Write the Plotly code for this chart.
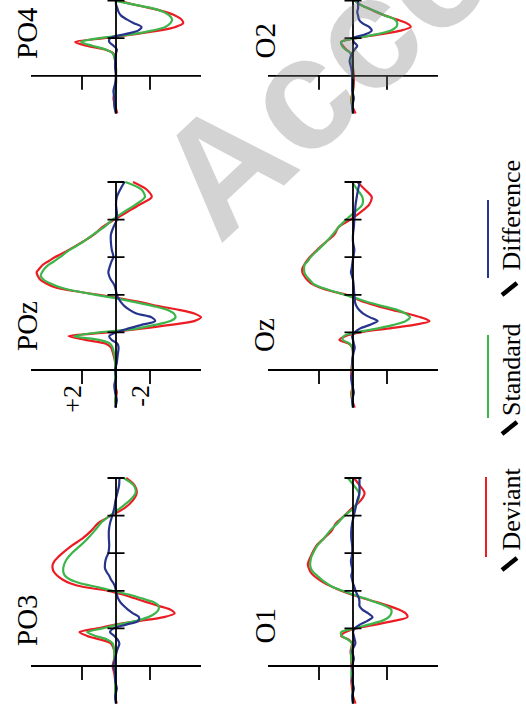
import plotly.graph_objects as go

W, H = 526, 705

# ---------------- data (µV, time in ms) ----------------
TIME = [-100, -80, -60, -40, -20, 0, 20, 40, 60, 70, 80, 90, 100, 110, 120, 130, 140, 150,
        160, 170, 180, 190, 200, 210, 220, 230, 240, 250, 260, 270, 280, 290, 300, 320,
        340, 360, 380, 400, 420, 440, 460, 480, 500]
TIME_TOP = TIME[:23]  # top row is cut by the page edge (up to 200 ms)

PO3_DEVIANT = [-0.05, 0.05, 0, 0.05, 0.1, 0.2, 0.1, 0.1, 0.3, 0.9, 1.7, 2.15, 1.1, 0.05, -1.4, -2.8, -3.45, -3.2,
               -2.5, -1.8, -1.1, -0.4, 0.45, 1.9, 2.7, 3.15, 3.45, 3.65, 3.73, 3.72, 3.6, 3.4, 3.15, 2.6,
               1.95, 1.45, 1.05, 0.3, -0.5, -0.98, -1.22, -1.1, -0.6]
PO3_STANDARD = [0, 0.05, 0.05, 0.05, 0.05, 0.1, 0.1, 0.1, 0.2, 0.5, 1.2, 1.7, 0.8, -0.1, -1.2, -1.9, -2.3, -2.5,
                -2.5, -2.2, -1.5, -0.75, 0.2, 1.1, 2.1, 2.7, 3.0, 3.1, 3.1, 3.05, 2.95, 2.8, 2.6, 2.1,
                1.65, 1.25, 0.9, 0.35, -0.25, -0.8, -1.15, -1.05, -0.45]
PO3_DIFFERENCE = [0, 0.05, -0.05, 0.05, 0.05, 0.15, 0.05, -0.05, -0.2, -0.1, 0.1, 0.35, 0.15, -0.6, -1.3, -1.35, -1.0, -0.7,
                  -0.45, -0.25, -0.12, -0.05, 0, 0.05, 0.15, 0.3, 0.4, 0.55, 0.65, 0.65, 0.62, 0.55, 0.45, 0.4,
                  0.42, 0.42, 0.35, 0.22, 0.1, 0.03, -0.08, -0.18, -0.2]

POZ_DEVIANT = [0, 0.05, -0.05, 0.05, 0.05, 0.05, 0.05, 0.15, 0.3, 0.6, 1.8, 2.8, 0.5, -1.5, -3.2, -4.6, -5.0, -4.6,
               -3.7, -2.5, -1.5, -0.3, 1.0, 2.5, 3.6, 4.1, 4.45, 4.6, 4.67, 4.5, 4.3, 3.95, 3.6, 2.75,
               2.0, 1.3, 0.8, 0.1, -0.65, -1.4, -2.1, -1.8, -1.0]
POZ_STANDARD = [0, 0.05, 0, 0.05, 0.05, 0.05, 0.05, 0.1, 0.2, 0.35, 1.0, 2.45, 1.0, -1.2, -2.3, -3.2, -3.5, -3.4,
                -3.0, -2.2, -1.2, -0.1, 1.2, 2.4, 3.3, 3.85, 4.25, 4.43, 4.35, 4.2, 3.95, 3.6, 3.3, 2.7,
                1.95, 1.35, 0.7, 0.2, -0.45, -1.15, -1.7, -1.5, -0.55]
POZ_DIFFERENCE = [0.05, -0.05, 0.05, 0.1, 0, 0.05, -0.05, -0.1, -0.15, -0.08, 0.25, 0.4, 0, -0.7, -1.5, -2.3, -2.1, -1.2,
                  -0.8, -0.5, -0.3, -0.15, -0.05, 0, 0.05, 0.15, 0.3, 0.4, 0.45, 0.4, 0.33, 0.25, 0.15, 0.25,
                  0.3, 0.3, 0.15, -0.05, -0.05, 0, -0.05, -0.25, -0.5]

PO4_DEVIANT = [-0.08, 0.05, 0.15, 0.05, 0, 0, 0, 0.05, 0.16, 0.65, 1.75, 2.4, 0.7, -1.0, -2.5, -3.5, -3.95, -3.85,
               -3.5, -2.9, -2.0, -1.0, -0.1]
PO4_STANDARD = [0, 0.05, 0.1, 0.05, 0, 0, 0, 0.05, 0.2, 0.6, 1.4, 2.05, 1.0, -0.9, -2.1, -2.9, -3.2, -3.3,
                -3.15, -2.8, -2.1, -1.0, 0.1]
PO4_DIFFERENCE = [0, 0.1, 0.1, 0.15, 0.05, 0, 0.05, 0.05, 0, -0.05, 0.15, 0.4, 0.35, -0.43, -1.3, -1.5, -1.05, -0.63,
                  -0.3, -0.15, -0.08, 0, 0]

O1_DEVIANT = [-0.15, 0, 0.05, 0.1, 0.05, 0.1, 0.1, 0.14, 0.06, 0.25, 0.7, 0.45, -0.2, -1.3, -2.4, -3.2, -3.1, -2.7,
              -2.1, -1.4, -0.6, 0.1, 0.7, 1.2, 1.65, 2.0, 2.3, 2.5, 2.6, 2.66, 2.6, 2.5, 2.4, 2.15,
              1.7, 1.25, 1.0, 0.5, 0.05, -0.45, -0.68, -0.4, -0.05]
O1_STANDARD = [0, 0.05, 0, 0.05, 0.1, 0.05, 0.1, 0.1, 0.05, 0.3, 0.65, 0.7, -0.1, -0.9, -1.7, -2.1, -2.25, -2.25,
               -1.9, -1.3, -0.7, 0.0, 0.6, 1.2, 1.55, 1.85, 2.1, 2.35, 2.48, 2.52, 2.5, 2.45, 2.35, 2.1,
               1.7, 1.35, 0.9, 0.5, -0.05, -0.3, -0.35, -0.05, 0.3]
O1_DIFFERENCE = [0, 0.05, -0.05, 0.05, 0, 0.05, -0.05, 0.05, -0.14, -0.1, -0.05, 0, -0.1, -0.4, -0.85, -1.15, -0.9, -0.55,
                 -0.38, -0.38, -0.35, -0.25, -0.15, -0.08, 0, 0.05, 0.1, 0.05, 0.05, 0.1, 0.12, 0.08, 0.05, 0.05,
                 0.1, 0.1, 0.05, -0.05, -0.15, -0.25, -0.38, -0.38, -0.38]

OZ_DEVIANT = [-0.1, 0.05, 0.1, 0, 0.1, 0.1, 0.05, 0, 0.05, 0.25, 0.8, 0.45, -0.4, -2.0, -3.6, -4.5, -4.0, -3.2,
              -2.3, -1.45, -0.7, -0.15, 0.4, 1.3, 2.0, 2.45, 2.7, 2.87, 2.98, 2.98, 2.87, 2.72, 2.55, 2.1,
              1.6, 1.1, 0.85, 0.15, -0.45, -0.95, -1.1, -0.7, -0.25]
OZ_STANDARD = [0, 0.05, 0.05, 0, 0.05, 0.05, 0.05, 0, 0.05, 0.2, 0.6, 0.55, -0.2, -1.4, -2.4, -3.1, -3.35, -3.1,
               -2.6, -1.75, -0.9, -0.25, 0.5, 1.2, 1.9, 2.35, 2.55, 2.75, 2.86, 2.88, 2.85, 2.65, 2.5, 2.05,
               1.6, 1.2, 0.85, 0.4, -0.1, -0.55, -0.55, -0.25, 0.05]
OZ_DIFFERENCE = [0, 0.05, -0.05, 0.05, 0.1, 0, 0.05, 0, -0.1, -0.05, 0, 0.05, -0.1, -0.4, -1.0, -1.45, -1.0, -0.6,
                 -0.35, -0.2, -0.12, -0.1, -0.08, -0.06, -0.05, -0.03, 0, 0.06, 0.12, 0.08, 0.05, 0.02, -0.02, -0.08,
                 0, 0, -0.05, -0.08, -0.12, -0.15, -0.22, -0.3, -0.4]

O2_DEVIANT = [-0.15, 0.05, 0.1, 0, -0.05, -0.05, 0, 0.05, 0.15, 0.4, 0.6, 0.7, -0.2, -1.55, -2.8, -3.4, -3.15, -2.55,
              -1.9, -1.35, -0.85, -0.4, -0.1]
O2_STANDARD = [0, 0.05, 0.05, 0, 0, 0, 0, 0.05, 0.15, 0.45, 0.65, 0.7, -0.2, -1.35, -2.2, -2.55, -2.6, -2.45,
               -1.9, -1.4, -0.85, -0.4, -0.1]
O2_DIFFERENCE = [0, 0.05, -0.05, 0.05, 0.05, 0.05, 0.1, 0.2, 0.05, -0.1, -0.25, -0.05, 0, -0.7, -1.1, -0.95, -0.55, -0.35,
                 -0.3, -0.25, -0.3, -0.3, -0.3]

CHANNELS = ["PO3", "POz", "PO4", "O1", "Oz", "O2"]
SERIES_NAMES = ["Deviant", "Standard", "Difference"]
TIME_TICKS = [100, 200, 300, 400, 500]
AMP_TICKS = [2, -2]
AMP_TICK_LABELS = ["+2", "-2"]
AMP_LIMIT = 5
TIME_START, TIME_END = -100, 500

DATA = {
    "PO3": (TIME, [PO3_DEVIANT, PO3_STANDARD, PO3_DIFFERENCE]),
    "POz": (TIME, [POZ_DEVIANT, POZ_STANDARD, POZ_DIFFERENCE]),
    "PO4": (TIME_TOP, [PO4_DEVIANT, PO4_STANDARD, PO4_DIFFERENCE]),
    "O1": (TIME, [O1_DEVIANT, O1_STANDARD, O1_DIFFERENCE]),
    "Oz": (TIME, [OZ_DEVIANT, OZ_STANDARD, OZ_DIFFERENCE]),
    "O2": (TIME_TOP, [O2_DEVIANT, O2_STANDARD, O2_DIFFERENCE]),
}

# ---------------- styling / layout ----------------
COLORS = ["#ec1c24", "#3cb54a", "#27348b"]
SERIF = "Liberation Serif, Times New Roman, serif"
PX_PER_UV = 17.0
PX_PER_MS = 0.376
COL_ZERO_X = [116, 353]
ROW_ZERO_Y = [666, 370, 75.8]
POS = {"PO3": (0, 0), "POz": (0, 1), "PO4": (0, 2), "O1": (1, 0), "Oz": (1, 1), "O2": (1, 2)}
LABEL_POS = {"PO3": (27, 648), "POz": (27, 353), "PO4": (27, 61),
             "O1": (264, 646), "Oz": (264, 354), "O2": (264, 61)}


def px(x):
    return x / W


def py(y):
    return 1 - y / H


fig = go.Figure()
layout_axes = {}
shapes = []
annotations = []
AXIS_W = 1.8
XPAD = 5.6

for i, ch in enumerate(CHANNELS, start=1):
    col, row = POS[ch]
    x0 = COL_ZERO_X[col]
    t0 = ROW_ZERO_Y[row]
    px_bottom = min(H, t0 + 105 * PX_PER_MS)
    px_top = max(0, t0 - 510 * PX_PER_MS)
    yr = [(t0 - px_bottom) / PX_PER_MS, (t0 - px_top) / PX_PER_MS]
    ydom = [max(0, py(px_bottom)), min(1, py(px_top))]
    xdom = [px(x0 - XPAD * PX_PER_UV), px(x0 + XPAD * PX_PER_UV)]
    xa = "x" if i == 1 else f"x{i}"
    ya = "y" if i == 1 else f"y{i}"
    layout_axes["xaxis" if i == 1 else f"xaxis{i}"] = dict(
        domain=xdom, range=[XPAD, -XPAD], visible=False, anchor=ya, fixedrange=True)
    layout_axes["yaxis" if i == 1 else f"yaxis{i}"] = dict(
        domain=ydom, range=yr, visible=False, anchor=xa, fixedrange=True)

    t, series = DATA[ch]
    for name, vals, color in zip(SERIES_NAMES, series, COLORS):
        fig.add_trace(go.Scatter(
            x=vals, y=t, mode="lines", name=name, showlegend=False,
            line=dict(color=color, width=2.2, shape="spline", smoothing=0.8),
            xaxis=xa, yaxis=ya, hoverinfo="skip"))

    line = dict(color="black", width=AXIS_W)
    # time axis (vertical, at 0 µV)
    shapes.append(dict(type="line", xref=xa, yref=ya, x0=0, x1=0,
                       y0=TIME_START, y1=TIME_END, line=line, layer="above"))
    for tt in TIME_TICKS:
        shapes.append(dict(type="line", xref=xa, yref=ya, x0=-0.5, x1=0.5,
                           y0=tt, y1=tt, line=line, layer="above"))
    # amplitude axis (horizontal, at 0 ms)
    shapes.append(dict(type="line", xref=xa, yref=ya, x0=-AMP_LIMIT, x1=AMP_LIMIT,
                       y0=0, y1=0, line=line, layer="above"))
    for a in AMP_TICKS:
        shapes.append(dict(type="line", xref=xa, yref=ya, x0=a, x1=a,
                           y0=0, y1=-37, line=line, layer="above"))

    lx, ly = LABEL_POS[ch]
    annotations.append(dict(text=ch, xref="paper", yref="paper", x=px(lx), y=py(ly),
                            xanchor="center", yanchor="bottom", textangle=-90, showarrow=False,
                            font=dict(family=SERIF, size=29, color="black")))

    if ch == "POz":
        for a, lab in zip(AMP_TICKS, AMP_TICK_LABELS):
            annotations.append(dict(text=lab, xref=xa, yref=ya, x=a, y=-34,
                                    xanchor="center", yanchor="top", textangle=-90,
                                    showarrow=False, xshift=-9,
                                    font=dict(family=SERIF, size=26, color="black")))

# ---------------- legend (drawn by hand, rotated) ----------------
LEG = [("Deviant", 486, 477, 557, 553, 557), ("Standard", 488, 335, 418, 418, 421),
       ("Difference", 488, 200, 278, 273, 282)]
for (name, lx, ytop, ybot, ytext, yslash), color in zip(LEG, COLORS):
    shapes.append(dict(type="line", xref="paper", yref="paper", x0=px(lx), x1=px(lx),
                       y0=py(ybot), y1=py(ytop), line=dict(color=color, width=2)))
    annotations.append(dict(text=name, xref="paper", yref="paper", x=px(511), y=py(ytext),
                            xanchor="center", yanchor="bottom", textangle=-90, showarrow=False,
                            font=dict(family=SERIF, size=26, color="black")))
    # short bold stroke in front of each legend label
    shapes.append(dict(type="line", xref="paper", yref="paper",
                       x0=px(502), y0=py(yslash + 13), x1=px(517), y1=py(yslash + 1),
                       line=dict(color="black", width=4.5)))

# watermark
annotations.append(dict(text="<b>Accepted</b>", xref="paper", yref="paper", x=px(445), y=py(-40),
                        xanchor="center", yanchor="middle", textangle=-43, showarrow=False,
                        font=dict(family="Liberation Sans, Arial, sans-serif", size=160,
                                  color="rgba(120,120,120,0.33)")))

fig.update_layout(
    width=W, height=H, margin=dict(l=0, r=0, t=0, b=0),
    paper_bgcolor="white", plot_bgcolor="rgba(0,0,0,0)",
    showlegend=False, shapes=shapes, annotations=annotations, **layout_axes)

fig.write_html("out.html", config={"displayModeBar": False})
